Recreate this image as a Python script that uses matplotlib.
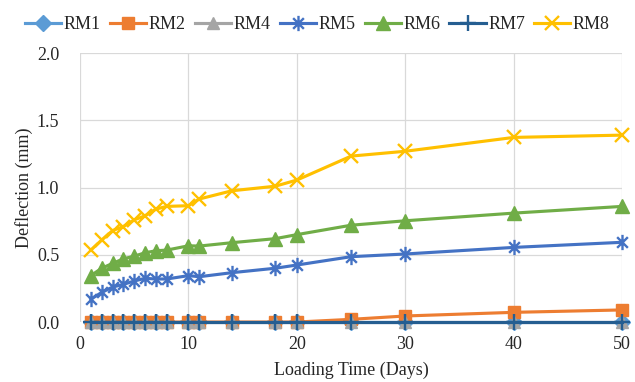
import matplotlib.pyplot as plt
from matplotlib.path import Path

plt.rcParams['font.family'] = ['Liberation Serif', 'DejaVu Serif']

days = [1, 2, 3, 4, 5, 6, 7, 8, 10, 11, 14, 18, 20, 25, 30, 40, 50]

rm1 = [0.0] * 17
rm2 = [0.0] * 13 + [0.02, 0.045, 0.072, 0.09]
rm4 = [0.0] * 17
rm5 = [0.17, 0.22, 0.26, 0.28, 0.305, 0.325, 0.32, 0.32, 0.345, 0.337,
       0.367, 0.40, 0.424, 0.486, 0.506, 0.555, 0.593]
rm6 = [0.345, 0.40, 0.436, 0.47, 0.49, 0.515, 0.53, 0.535, 0.567, 0.565,
       0.59, 0.62, 0.65, 0.72, 0.753, 0.81, 0.86]
rm7 = [0.0] * 17
rm8 = [0.535, 0.61, 0.68, 0.71, 0.76, 0.79, 0.84, 0.86, 0.865, 0.915,
       0.976, 1.01, 1.056, 1.234, 1.27, 1.373, 1.39]

# Excel-style star: an "x" crossed by a vertical bar
star = Path([(0, -1), (0, 1), (-0.7, -0.7), (0.7, 0.7), (-0.7, 0.7), (0.7, -0.7)],
            [Path.MOVETO, Path.LINETO] * 3)

series = [
    ('RM1', rm1, '#5B9BD5', 'D', 8),
    ('RM2', rm2, '#ED7D31', 's', 9),
    ('RM4', rm4, '#A5A5A5', '^', 9),
    ('RM5', rm5, '#4472C4', star, 11),
    ('RM6', rm6, '#70AD47', '^', 10),
    ('RM7', rm7, '#255E91', '+', 11),
    ('RM8', rm8, '#FFC000', 'x', 10),
]

fig = plt.figure(figsize=(6.35, 3.82), dpi=100)
ax = fig.add_axes([0.126, 0.157, 0.854, 0.704])

for name, vals, col, mk, ms in series:
    thin = not isinstance(mk, str) or mk in ('x', '+')
    ax.plot(days, vals, color=col, linewidth=2.25, marker=mk, markersize=ms,
            markeredgewidth=1.7 if thin else 1.0,
            markerfacecolor=col, markeredgecolor=col, label=name, clip_on=False)

ax.set_xlim(0, 50)
ax.set_ylim(0, 2.0)
ax.set_xticks([0, 10, 20, 30, 40, 50])
ax.set_yticks([0.0, 0.5, 1.0, 1.5, 2.0])
ax.set_yticklabels(['0.0', '0.5', '1.0', '1.5', '2.0'])
ax.grid(True, color='#D9D9D9', linewidth=0.9)
ax.set_axisbelow(True)
for s in ax.spines.values():
    s.set_visible(False)
ax.tick_params(length=0, labelsize=13, colors='#262626')
ax.tick_params(axis='y', pad=15)
ax.tick_params(axis='x', pad=10)

ax.set_xlabel('Loading Time (Days)', fontsize=13, color='#262626', labelpad=6)
ax.set_ylabel('Deflection (mm)', fontsize=13, color='#262626', labelpad=3)

leg = fig.legend(loc='upper center', bbox_to_anchor=(0.5, 1.0), ncol=7,
                 frameon=False, fontsize=13, handlelength=2.0,
                 handletextpad=0.15, columnspacing=0.5)
for t in leg.get_texts():
    t.set_color('#262626')

fig.savefig('out.png', dpi=100)
